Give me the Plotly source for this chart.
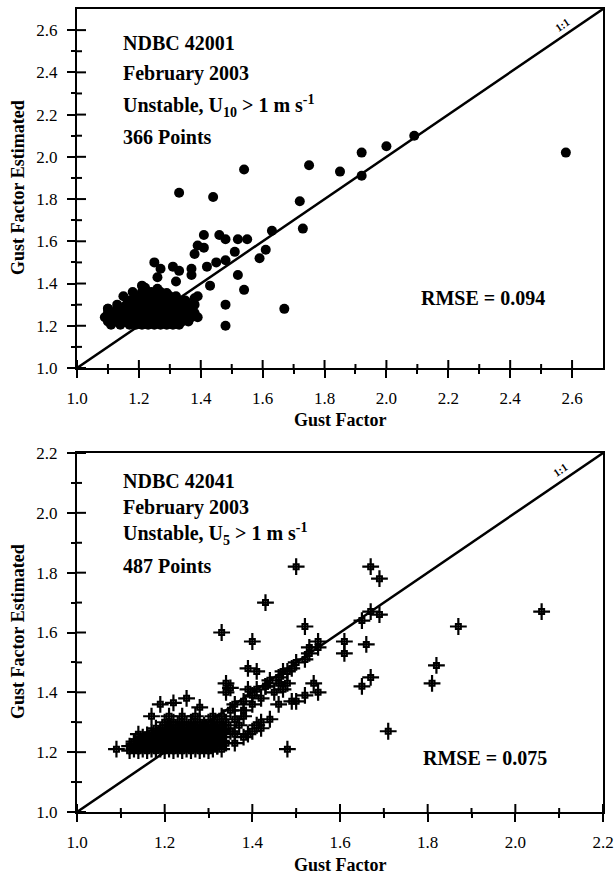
import plotly.graph_objects as go

# ---------------- data ----------------
# Panel 1: NDBC 42001, (gust factor, gust factor estimated)
p1_cluster = [
    (1.11,1.205),(1.14,1.205),(1.17,1.205),(1.19,1.205),(1.21,1.205),(1.23,1.205),(1.25,1.205),(1.27,1.205),(1.29,1.205),(1.31,1.205),(1.33,1.205),
    (1.10,1.22),(1.12,1.22),(1.15,1.22),(1.18,1.22),(1.20,1.22),(1.22,1.22),(1.24,1.22),(1.26,1.22),(1.28,1.22),(1.30,1.22),(1.32,1.22),(1.34,1.22),(1.36,1.22),
    (1.09,1.24),(1.11,1.24),(1.13,1.24),(1.16,1.24),(1.19,1.24),(1.21,1.24),(1.23,1.24),(1.25,1.24),(1.27,1.24),(1.29,1.24),(1.31,1.24),(1.33,1.24),(1.35,1.24),(1.37,1.24),
    (1.10,1.26),(1.12,1.26),(1.14,1.26),(1.17,1.26),(1.20,1.26),(1.22,1.26),(1.24,1.26),(1.26,1.26),(1.28,1.26),(1.30,1.26),(1.32,1.26),(1.34,1.26),(1.36,1.26),(1.38,1.26),
    (1.10,1.28),(1.13,1.28),(1.15,1.28),(1.18,1.28),(1.21,1.28),(1.23,1.28),(1.25,1.28),(1.27,1.28),(1.29,1.28),(1.31,1.28),(1.33,1.28),(1.35,1.28),(1.37,1.28),
    (1.13,1.30),(1.16,1.30),(1.19,1.30),(1.22,1.30),(1.24,1.30),(1.26,1.30),(1.28,1.30),(1.30,1.30),(1.32,1.30),(1.34,1.30),(1.36,1.30),(1.38,1.30),
    (1.17,1.32),(1.20,1.32),(1.23,1.32),(1.25,1.32),(1.27,1.32),(1.29,1.32),(1.31,1.32),(1.33,1.32),(1.35,1.32),(1.38,1.33),
    (1.19,1.34),(1.22,1.34),(1.24,1.34),(1.26,1.34),(1.28,1.34),(1.30,1.34),(1.32,1.34),
    (1.21,1.36),(1.24,1.36),(1.27,1.36),(1.29,1.355),
    (1.22,1.38),(1.26,1.375),
]
p1_scatter = [
    (2.58,2.02),(2.09,2.10),(2.00,2.05),(1.92,2.02),(1.92,1.91),(1.85,1.93),(1.75,1.96),
    (1.33,1.83),(1.44,1.81),(1.54,1.94),(1.72,1.79),(1.73,1.66),(1.63,1.65),(1.61,1.56),
    (1.59,1.52),(1.55,1.61),(1.52,1.61),(1.48,1.61),(1.46,1.63),(1.41,1.63),(1.41,1.57),
    (1.39,1.58),(1.38,1.54),(1.51,1.55),(1.48,1.51),(1.45,1.50),(1.42,1.48),(1.37,1.47),
    (1.37,1.44),(1.52,1.44),(1.54,1.37),(1.43,1.39),(1.48,1.30),(1.48,1.20),(1.67,1.28),
    (1.25,1.50),(1.27,1.47),(1.31,1.48),(1.33,1.46),(1.32,1.41),(1.26,1.43),(1.39,1.34),
    (1.39,1.24),(1.21,1.39),(1.18,1.36),(1.15,1.34),(1.10,1.28),
]
p1_points = p1_cluster + p1_scatter
gf1_x = [p[0] for p in p1_points]
gf1_y = [p[1] for p in p1_points]

# Panel 2: NDBC 42041
p2_cluster = [
    (1.12,1.205),(1.14,1.205),(1.16,1.205),(1.18,1.205),(1.20,1.205),(1.22,1.205),(1.24,1.205),(1.26,1.205),(1.28,1.205),(1.30,1.205),
    (1.12,1.22),(1.14,1.22),(1.16,1.22),(1.18,1.22),(1.20,1.22),(1.22,1.22),(1.24,1.22),(1.26,1.22),(1.28,1.22),(1.30,1.22),(1.32,1.22),
    (1.13,1.235),(1.15,1.235),(1.17,1.235),(1.19,1.235),(1.21,1.235),(1.23,1.235),(1.25,1.235),(1.27,1.235),(1.29,1.235),(1.31,1.235),(1.33,1.235),
    (1.15,1.25),(1.17,1.25),(1.19,1.25),(1.21,1.25),(1.23,1.25),(1.25,1.25),(1.27,1.25),(1.29,1.25),(1.31,1.25),(1.33,1.25),
    (1.17,1.265),(1.19,1.265),(1.21,1.265),(1.23,1.265),(1.25,1.265),(1.27,1.265),(1.29,1.265),(1.31,1.265),(1.33,1.265),
    (1.18,1.28),(1.20,1.28),(1.22,1.28),(1.24,1.28),(1.26,1.28),(1.28,1.28),(1.30,1.28),(1.32,1.28),(1.34,1.28),
    (1.20,1.30),(1.22,1.30),(1.24,1.30),(1.26,1.30),(1.28,1.30),(1.30,1.30),(1.32,1.30),
    (1.17,1.32),(1.21,1.32),(1.24,1.32),(1.27,1.32),(1.31,1.32),
    (1.19,1.36),(1.22,1.365),(1.25,1.38),(1.28,1.35),(1.14,1.26),(1.09,1.21),
    (1.13,1.21),(1.15,1.21),(1.17,1.21),(1.19,1.21),(1.21,1.21),(1.23,1.21),(1.25,1.21),(1.27,1.21),(1.29,1.21),
    (1.13,1.228),(1.15,1.228),(1.17,1.228),(1.19,1.228),(1.21,1.228),(1.23,1.228),(1.25,1.228),(1.27,1.228),(1.29,1.228),(1.31,1.228),
    (1.14,1.243),(1.16,1.243),(1.18,1.243),(1.20,1.243),(1.22,1.243),(1.24,1.243),(1.26,1.243),(1.28,1.243),(1.30,1.243),(1.32,1.243),
    (1.16,1.258),(1.18,1.258),(1.20,1.258),(1.22,1.258),(1.24,1.258),(1.26,1.258),(1.28,1.258),(1.30,1.258),(1.32,1.258),
    (1.19,1.273),(1.21,1.273),(1.23,1.273),(1.25,1.273),(1.27,1.273),(1.29,1.273),(1.31,1.273),(1.33,1.273),
    (1.21,1.29),(1.23,1.29),(1.25,1.29),(1.27,1.29),(1.29,1.29),(1.31,1.29),(1.33,1.29),
]
p2_scatter = [
    (2.06,1.67),(1.87,1.62),(1.67,1.82),(1.69,1.78),(1.50,1.82),(1.43,1.70),(1.33,1.60),
    (1.40,1.57),(1.67,1.67),(1.69,1.66),(1.65,1.64),(1.52,1.62),(1.61,1.57),(1.61,1.53),
    (1.66,1.56),(1.55,1.57),(1.53,1.55),(1.82,1.49),(1.81,1.43),(1.67,1.45),(1.65,1.42),
    (1.54,1.43),(1.55,1.40),(1.52,1.39),(1.71,1.27),(1.50,1.50),(1.48,1.47),(1.39,1.48),
    (1.41,1.47),(1.34,1.40),(1.34,1.43),(1.35,1.415),(1.39,1.41),(1.43,1.42),(1.46,1.43),
    (1.47,1.41),(1.46,1.36),(1.49,1.37),(1.50,1.37),(1.48,1.21),
    (1.33,1.32),(1.35,1.34),(1.36,1.36),(1.38,1.37),(1.40,1.39),(1.41,1.41),(1.43,1.42),
    (1.44,1.44),(1.46,1.45),(1.47,1.47),(1.49,1.48),(1.52,1.51),(1.53,1.53),(1.55,1.55),
    (1.38,1.34),(1.42,1.38),(1.45,1.40),(1.48,1.43),(1.40,1.36),(1.36,1.31),(1.34,1.30),
    (1.37,1.29),(1.35,1.27),(1.38,1.32),
    (1.32,1.22),(1.34,1.23),(1.36,1.23),(1.38,1.25),(1.40,1.27),(1.42,1.28),(1.42,1.30),
    (1.31,1.21),(1.33,1.21),(1.36,1.26),(1.39,1.26),(1.41,1.29),(1.44,1.31),
]
p2_points = p2_cluster + p2_scatter
gf2_x = [p[0] for p in p2_points]
gf2_y = [p[1] for p in p2_points]

range1 = [1.0, 2.7]
range2 = [1.0, 2.2]
diag1 = [1.0, 2.7]
diag2 = [1.0, 2.2]
major1 = [1.0, 1.2, 1.4, 1.6, 1.8, 2.0, 2.2, 2.4, 2.6]
minor1 = [1.1, 1.3, 1.5, 1.7, 1.9, 2.1, 2.3, 2.5]
major2 = [1.0, 1.2, 1.4, 1.6, 1.8, 2.0, 2.2]
minor2 = [1.1, 1.3, 1.5, 1.7, 1.9, 2.1]
labels1 = ["%.1f" % v for v in major1]
labels2 = ["%.1f" % v for v in major2]

# ---------------- figure ----------------
FONT = "Liberation Serif, Times New Roman, serif"
W, H = 614, 874
ML, MR, MT, MB = 77, 11, 9, 62
fig = go.Figure()

fig.add_trace(go.Scatter(x=diag1, y=diag1, mode="lines", line=dict(color="black", width=2.5),
                         xaxis="x", yaxis="y", hoverinfo="skip", showlegend=False))
fig.add_trace(go.Scatter(x=gf1_x, y=gf1_y, mode="markers",
                         marker=dict(symbol="circle", size=10, color="black"),
                         xaxis="x", yaxis="y", showlegend=False))

fig.add_trace(go.Scatter(x=diag2, y=diag2, mode="lines", line=dict(color="black", width=2.5),
                         xaxis="x2", yaxis="y2", hoverinfo="skip", showlegend=False))
fig.add_trace(go.Scatter(x=gf2_x, y=gf2_y, mode="markers",
                         marker=dict(symbol="cross-thin", size=12, line=dict(color="black", width=2.2)),
                         xaxis="x2", yaxis="y2", showlegend=False))
fig.add_trace(go.Scatter(x=gf2_x, y=gf2_y, mode="markers",
                         marker=dict(symbol="square-open", size=5, color="black", line=dict(color="black", width=2)),
                         xaxis="x2", yaxis="y2", showlegend=False))

PH = H - MT - MB  # plot-area height in px
def ydom(top_px, bot_px):
    return [(H - MB - bot_px) / PH, (H - MB - top_px) / PH]

ydom1 = ydom(9, 368)
ydom2 = ydom(453, 812)

def axis(rng, anchor, majors, labels, minors, dom=None):
    d = dict(range=rng, anchor=anchor, showgrid=False, zeroline=False, automargin=False,
             showline=True, linecolor="black", linewidth=2, mirror=True,
             ticks="outside", ticklen=8, tickwidth=2, tickcolor="black",
             tickmode="array", tickvals=majors, ticktext=labels, ticklabelstandoff=6,
             minor=dict(ticks="outside", ticklen=4, tickwidth=2, tickcolor="black",
                        tickmode="array", tickvals=minors, showgrid=False),
             tickfont=dict(family=FONT, size=17, color="black"))
    if dom is not None:
        d["domain"] = dom
    return d

fig.update_layout(
    template="none",
    width=W, height=H, margin=dict(l=ML, r=MR, t=MT, b=MB, autoexpand=False),
    paper_bgcolor="white", plot_bgcolor="white",
    xaxis=axis(range1, "y", major1, labels1, minor1),
    yaxis=axis(range1, "x", major1, labels1, minor1, ydom1),
    xaxis2=axis(range2, "y2", major2, labels2, minor2),
    yaxis2=axis(range2, "x2", major2, labels2, minor2, ydom2),
)

# inner halves of the crossing tick marks
shapes = []
def add_inner_ticks(xr, yr, x_anchor, y_anchor, majors, minors):
    for vals, half in ((majors, 8), (minors, 4)):
        for t in vals:
            shapes.append(dict(type="line", xref=xr, yref=yr, x0=t, x1=t,
                               ysizemode="pixel", yanchor=y_anchor, y0=0, y1=half,
                               line=dict(color="black", width=2), layer="above"))
            shapes.append(dict(type="line", xref=xr, yref=yr, y0=t, y1=t,
                               xsizemode="pixel", xanchor=x_anchor, x0=0, x1=half + 1,
                               line=dict(color="black", width=2), layer="above"))
add_inner_ticks("x", "y", range1[0], range1[0], major1, minor1)
add_inner_ticks("x2", "y2", range2[0], range2[0], major2, minor2)

ann = []
def px2paper(px, py):
    return (px - ML) / (W - ML - MR), (H - MB - py) / PH

def txt(px, py, s, size=20, **kw):
    x, y = px2paper(px, py)
    ann.append(dict(x=x, y=y, xref="paper", yref="paper", text=s, showarrow=False,
                    font=dict(family=FONT, size=size, color="black"), **kw))

lines1 = ["<b>NDBC 42001</b>", "<b>February 2003</b>",
          "<b>Unstable, U<sub>10</sub> > 1 m s<sup>-1</sup></b>", "<b>366 Points</b>"]
ys1 = [43, 74, 106, 137]
for s, py in zip(lines1, ys1):
    txt(121, py, s, xanchor="left", yanchor="middle")
txt(483, 298, "<b>RMSE = 0.094</b>", xanchor="center", yanchor="middle")

lines2 = ["<b>NDBC 42041</b>", "<b>February 2003</b>",
          "<b>Unstable, U<sub>5</sub> > 1 m s<sup>-1</sup></b>", "<b>487 Points</b>"]
ys2 = [481, 507, 534, 566]
for s, py in zip(lines2, ys2):
    txt(121, py, s, xanchor="left", yanchor="middle")
txt(485, 758, "<b>RMSE = 0.075</b>", xanchor="center", yanchor="middle")

txt(562, 25, "<b>1:1</b>", size=11, textangle=-34, xanchor="center", yanchor="middle")
txt(560, 470, "<b>1:1</b>", size=11, textangle=-34, xanchor="center", yanchor="middle")

txt(340, 420, "<b>Gust Factor</b>", size=18, xanchor="center", yanchor="middle")
txt(340, 865, "<b>Gust Factor</b>", size=18, xanchor="center", yanchor="middle")
txt(18, 188, "<b>Gust Factor Estimated</b>", size=18, textangle=-90, xanchor="center", yanchor="middle")
txt(18, 632, "<b>Gust Factor Estimated</b>", size=18, textangle=-90, xanchor="center", yanchor="middle")

fig.update_layout(annotations=ann, shapes=shapes)
fig.write_html("out.html")
